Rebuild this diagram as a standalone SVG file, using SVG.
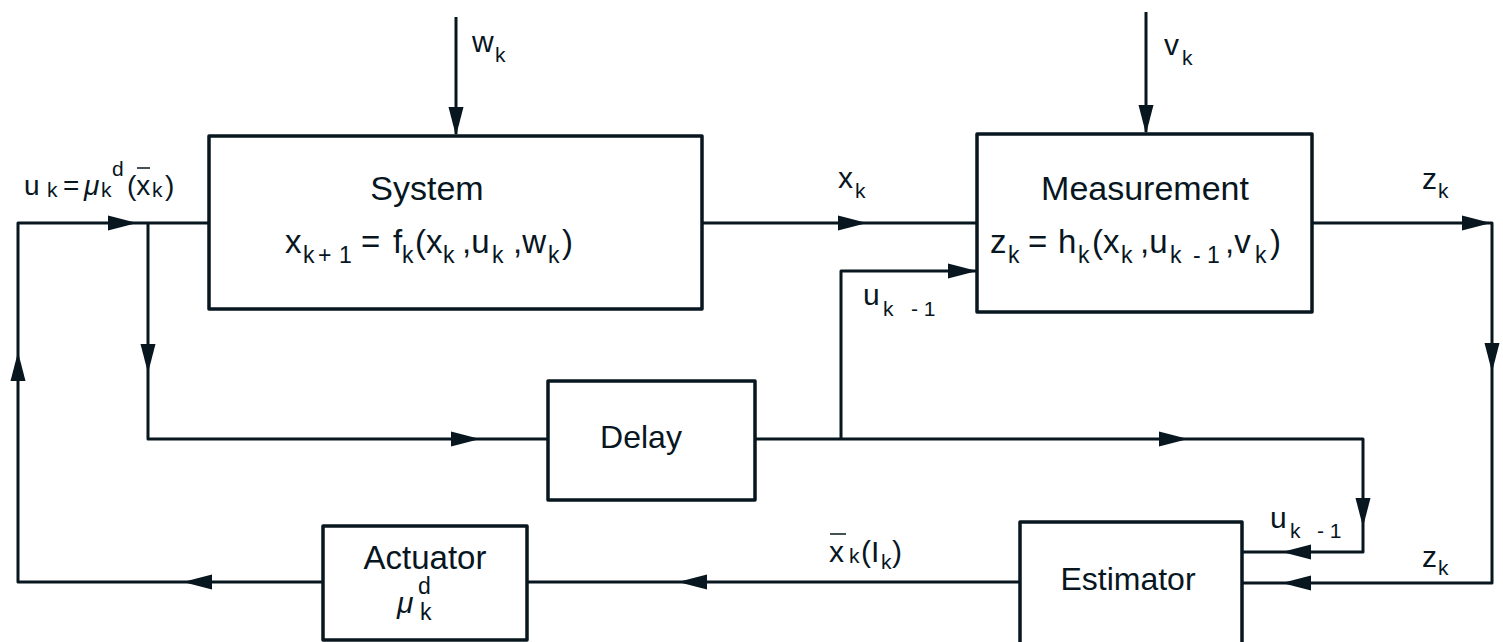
<svg xmlns="http://www.w3.org/2000/svg" xmlns:xlink="http://www.w3.org/1999/xlink" width="1503" height="642" viewBox="0 0 1503 642">
<style>
.bg{fill:#ffffff}
.box{fill:#ffffff;stroke:#07161f;stroke-width:3.5;stroke-linejoin:round}
.ln{fill:none;stroke:#07161f;stroke-width:3;stroke-linejoin:round}
.ah{fill:#07161f}
text{font-family:"Liberation Sans",Arial,Helvetica,sans-serif;fill:#07161f}
.t{font-size:34px}
.m{font-size:33px}
.s{font-size:23px}
.l{font-size:30px}
.ls{font-size:21px}
.it{font-style:italic}
.bar{stroke:#07161f;stroke-width:1.5}
</style>
<defs>
<path id="arr" d="M0,0 L-29,-7.5 L-29,7.5 Z"/>
</defs>
<rect class="bg" x="0" y="0" width="1503" height="642"/>

<g id="connectors">
<path class="ln" d="M456,17 V134"/>
<path class="ln" d="M1146,12 V132"/>
<path class="ln" d="M323,582 H18 V223 H209"/>
<path class="ln" d="M148,223 V439 H548"/>
<path class="ln" d="M702,223 H977"/>
<path class="ln" d="M755,439 H1363 V552 H1242"/>
<path class="ln" d="M841,439 V271 H977"/>
<path class="ln" d="M1312,223 H1492 V583 H1242"/>
<path class="ln" d="M1020,582 H527"/>
<use class="ah" xlink:href="#arr" transform="translate(456,136) rotate(90)"/>
<use class="ah" xlink:href="#arr" transform="translate(1146,134) rotate(90)"/>
<use class="ah" xlink:href="#arr" transform="translate(137,223)"/>
<use class="ah" xlink:href="#arr" transform="translate(148,373) rotate(90)"/>
<use class="ah" xlink:href="#arr" transform="translate(480,439)"/>
<use class="ah" xlink:href="#arr" transform="translate(1188,439)"/>
<use class="ah" xlink:href="#arr" transform="translate(1363,527) rotate(90)"/>
<use class="ah" xlink:href="#arr" transform="translate(1282,552) rotate(180)"/>
<use class="ah" xlink:href="#arr" transform="translate(1491,223)"/>
<use class="ah" xlink:href="#arr" transform="translate(1492,372) rotate(90)"/>
<use class="ah" xlink:href="#arr" transform="translate(1282,583) rotate(180)"/>
<use class="ah" xlink:href="#arr" transform="translate(678,582) rotate(180)"/>
<use class="ah" xlink:href="#arr" transform="translate(183,582) rotate(180)"/>
<use class="ah" xlink:href="#arr" transform="translate(18,352) rotate(-90)"/>
<use class="ah" xlink:href="#arr" transform="translate(867,223)"/>
<use class="ah" xlink:href="#arr" transform="translate(977,271)"/>
</g>

<g id="labels">
<text class="l" x="472" y="52">w<tspan class="ls" x="495" y="62">k</tspan></text>
<text class="l" x="1164" y="55">v<tspan class="ls" x="1182" y="65">k</tspan></text>
<text class="l" x="838" y="188">x<tspan class="ls" x="855" y="198">k</tspan></text>
<text class="l" x="1422" y="189">z<tspan class="ls" x="1438" y="198">k</tspan></text>
<text class="l" x="863" y="305">u<tspan class="ls" x="883" y="316">k</tspan><tspan class="ls" x="911" y="316">- 1</tspan></text>
<text class="l" x="1270" y="528">u<tspan class="ls" x="1290" y="538">k</tspan><tspan class="ls" x="1317" y="538">- 1</tspan></text>
<text class="l" x="1422" y="567">z<tspan class="ls" x="1438" y="575">k</tspan></text>
<text class="l" x="829" y="562">x<tspan class="ls" x="849" y="563">k</tspan><tspan x="861" y="562">(I</tspan><tspan class="ls" x="881" y="569">k</tspan><tspan x="892" y="562">)</tspan></text>
<line class="bar" x1="830" y1="534" x2="846" y2="534"/>
<text style="font-size:28px" x="24" y="195">u<tspan class="ls" x="47" y="197">k</tspan><tspan x="63" y="195">=</tspan><tspan class="it" x="84" y="195">μ</tspan><tspan class="ls" x="101" y="197">k</tspan><tspan class="ls" x="112" y="176">d</tspan><tspan x="127" y="195">(x</tspan><tspan class="ls" x="152" y="197">k</tspan><tspan x="165" y="195">)</tspan></text>
<line class="bar" x1="137" y1="168" x2="150" y2="168"/>
</g>

<g id="system">
<rect class="box" x="209" y="136" width="493" height="173"/>
<text class="t" x="427" y="200" text-anchor="middle">System</text>
<text class="m" x="285" y="253">x<tspan class="s" x="303" y="263">k</tspan><tspan class="s" x="318" y="263">+</tspan><tspan class="s" x="339" y="263">1</tspan><tspan x="361" y="253">=</tspan><tspan x="393" y="253">f</tspan><tspan class="s" x="402" y="263">k</tspan><tspan x="415" y="253">(x</tspan><tspan class="s" x="443" y="263">k</tspan><tspan x="462" y="253">,u</tspan><tspan class="s" x="492" y="263">k</tspan><tspan x="513" y="253">,w</tspan><tspan class="s" x="548" y="263">k</tspan><tspan x="562" y="253">)</tspan></text>
</g>

<g id="measurement">
<rect class="box" x="977" y="134" width="335" height="178"/>
<text class="t" x="1145" y="200" text-anchor="middle">Measurement</text>
<text class="m" x="990" y="253">z<tspan class="s" x="1008" y="263">k</tspan><tspan x="1028" y="253">=</tspan><tspan x="1058" y="253">h</tspan><tspan class="s" x="1078" y="263">k</tspan><tspan x="1092" y="253">(x</tspan><tspan class="s" x="1121" y="263">k</tspan><tspan x="1140" y="253">,u</tspan><tspan class="s" x="1170" y="263">k</tspan><tspan class="s" x="1193" y="263">- 1</tspan><tspan x="1225" y="253">,v</tspan><tspan class="s" x="1255" y="263">k</tspan><tspan x="1270" y="253">)</tspan></text>
</g>

<g id="delay">
<rect class="box" x="548" y="381" width="207" height="119"/>
<text class="t" x="641" y="448" text-anchor="middle" style="font-size:32px">Delay</text>
</g>

<g id="estimator">
<rect class="box" x="1020" y="522" width="222" height="160"/>
<text class="t" x="1128" y="590" text-anchor="middle" style="font-size:32px">Estimator</text>
</g>

<g id="actuator">
<rect class="box" x="323" y="526" width="204" height="114"/>
<text class="t" x="425" y="569" text-anchor="middle" style="font-size:33px">Actuator</text>
<text style="font-size:30px" class="it" x="397" y="613">μ</text>
<text class="s" x="418" y="594">d</text>
<text class="s" x="420" y="620">k</text>
</g>
</svg>
